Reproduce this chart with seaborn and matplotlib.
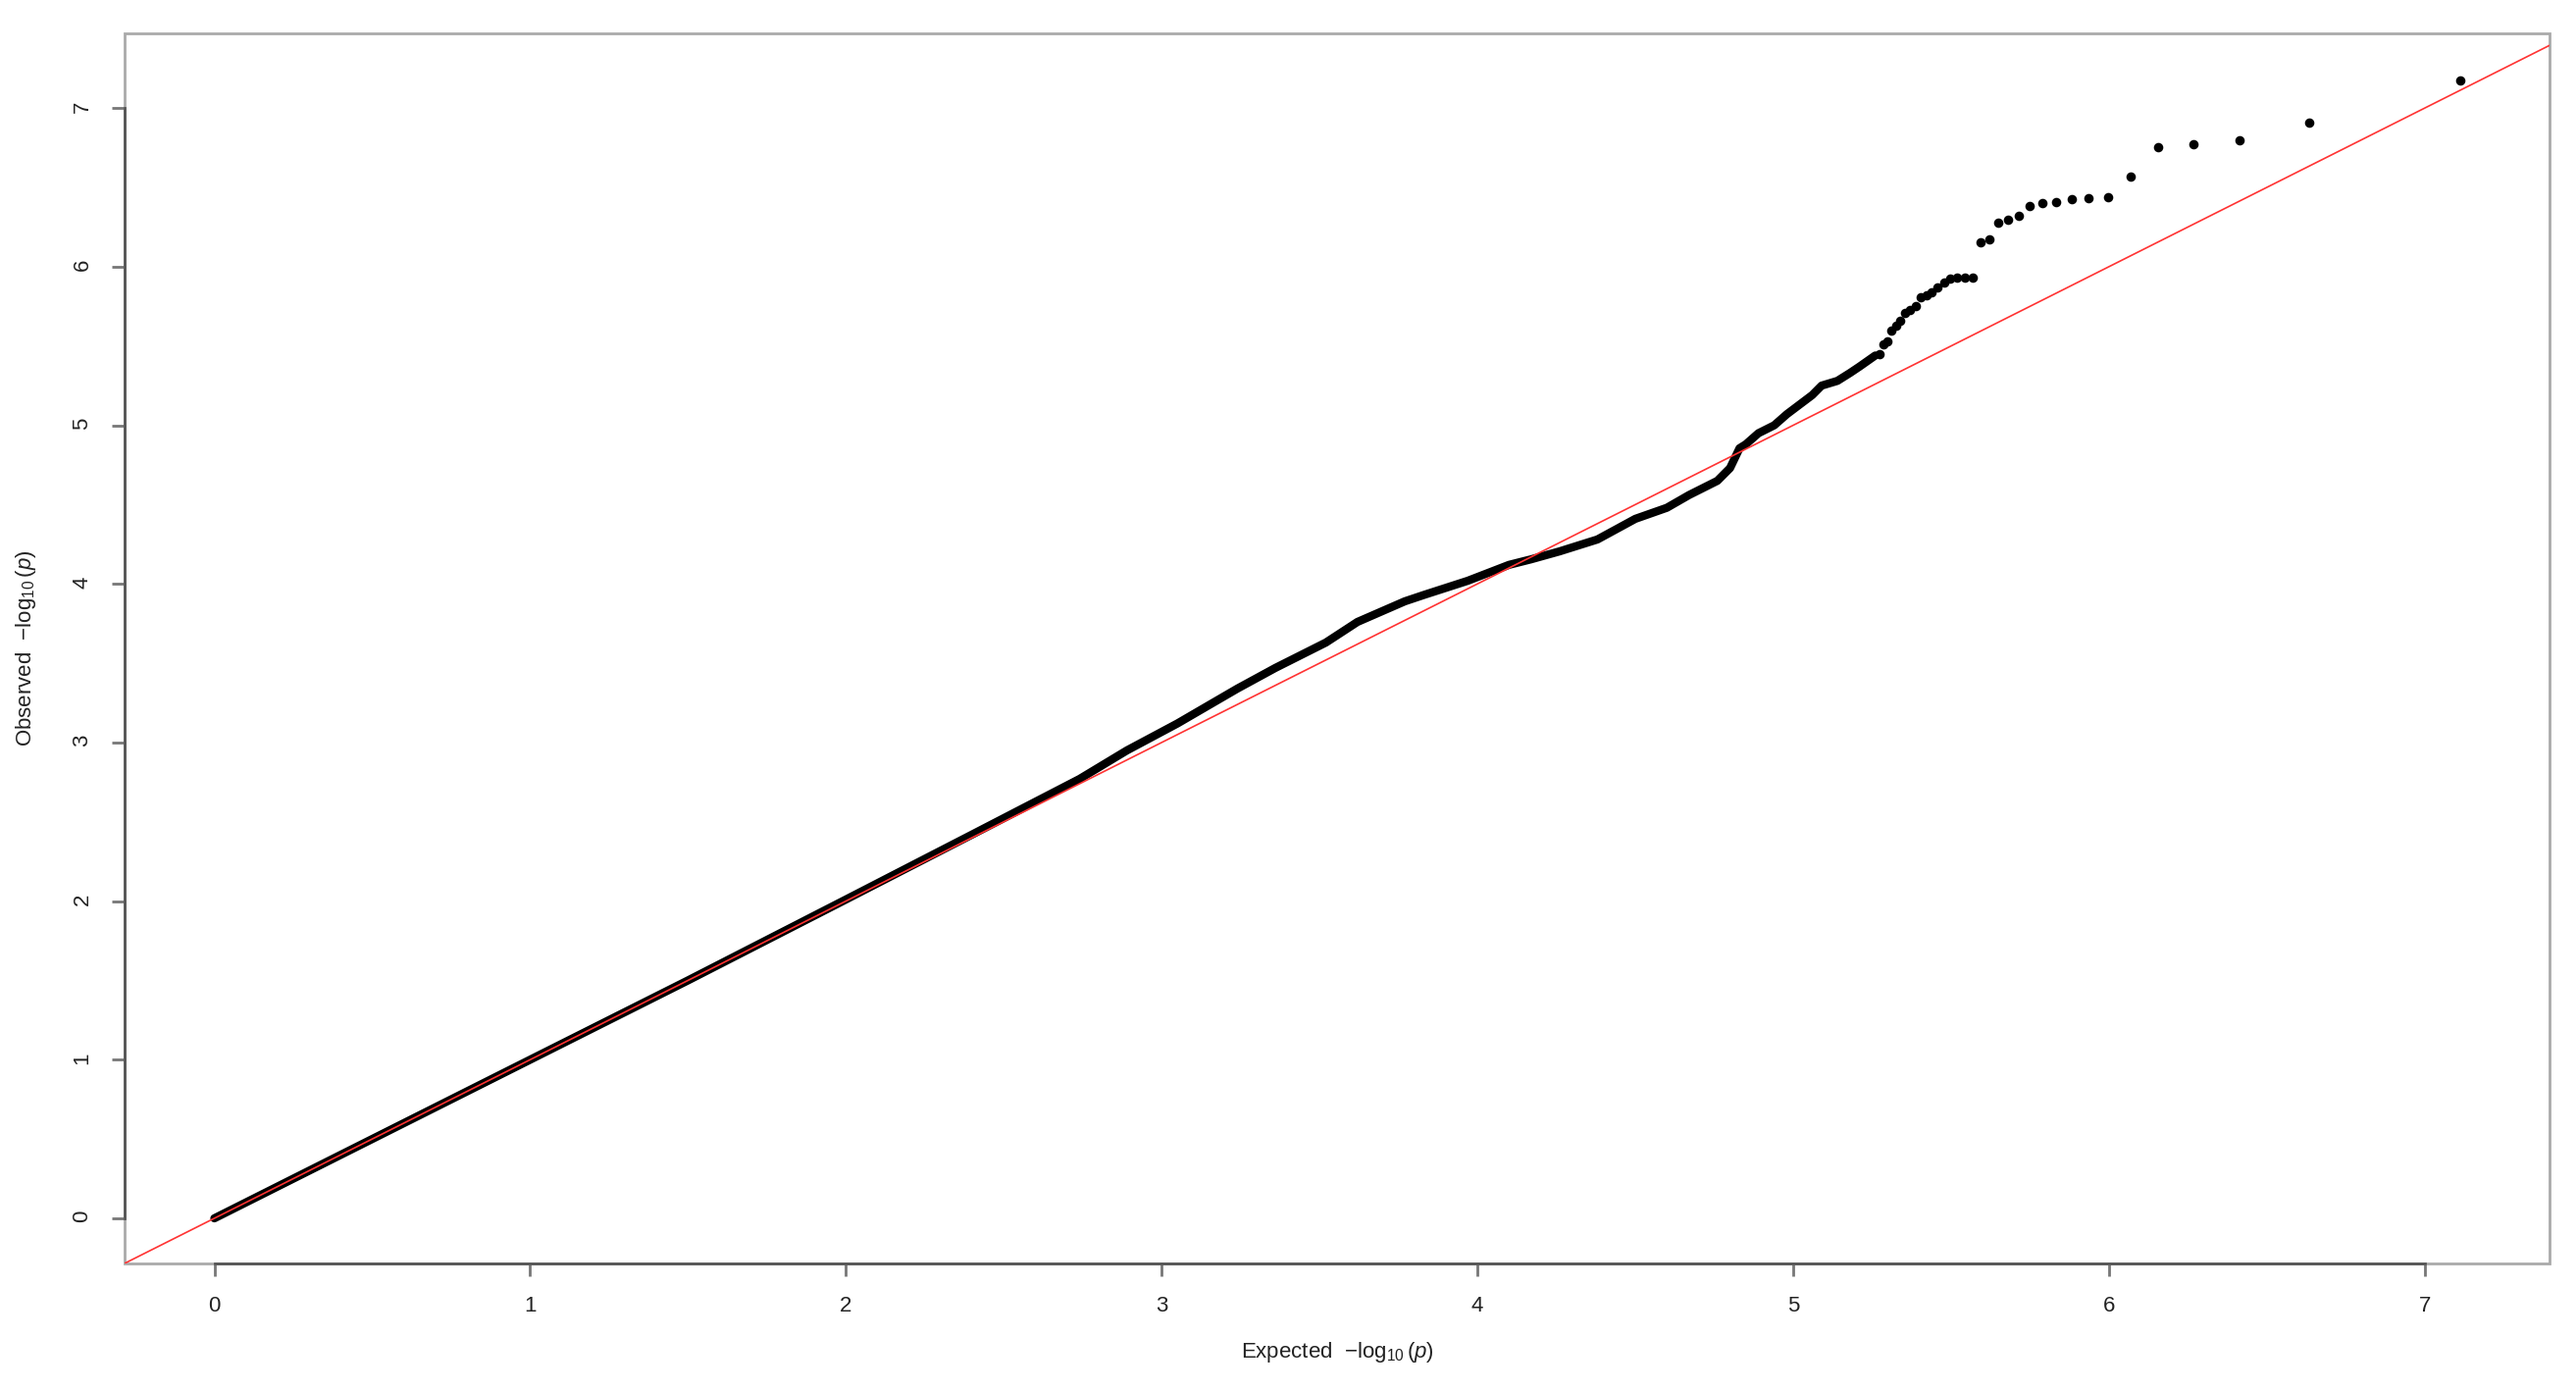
import matplotlib
matplotlib.use("Agg")
import matplotlib.pyplot as plt
from matplotlib.patches import Rectangle
import pandas as pd
import seaborn as sns

# ----------------------------
# QQ data
# ----------------------------
# dense body of the curve (drawn as a thick band)
body_expected = [0.00, 0.50, 1.00, 1.50, 2.00, 2.40, 2.74, 2.89, 3.05, 3.24,
                 3.36, 3.52, 3.62, 3.77, 3.83, 3.97, 4.10, 4.17, 4.26, 4.38,
                 4.50, 4.60, 4.67, 4.76, 4.80, 4.83, 4.85, 4.89, 4.94, 4.98,
                 5.02, 5.06, 5.09, 5.14, 5.18, 5.21, 5.26]
body_observed = [0.00, 0.50, 1.00, 1.50, 2.01, 2.42, 2.77, 2.95, 3.12, 3.34,
                 3.47, 3.63, 3.76, 3.89, 3.93, 4.02, 4.12, 4.155, 4.205, 4.28,
                 4.41, 4.48, 4.56, 4.65, 4.73, 4.855, 4.88, 4.95, 5.00, 5.07,
                 5.13, 5.19, 5.25, 5.28, 5.33, 5.37, 5.44]

# sparse top hits (individual points)
tail_expected = [7.111, 6.634, 6.412, 6.266, 6.157, 6.070, 5.998, 5.935, 5.881,
                 5.832, 5.789, 5.749, 5.713, 5.679, 5.648, 5.620, 5.593, 5.567,
                 5.543, 5.520, 5.498, 5.478, 5.458, 5.439, 5.421, 5.403, 5.387,
                 5.371, 5.355, 5.340, 5.326, 5.312, 5.298, 5.285, 5.272]
tail_observed = [7.176, 6.908, 6.800, 6.770, 6.755, 6.570, 6.438, 6.434, 6.424,
                 6.410, 6.400, 6.380, 6.320, 6.296, 6.275, 6.174, 6.153, 5.930,
                 5.930, 5.928, 5.925, 5.900, 5.870, 5.840, 5.820, 5.810, 5.750,
                 5.730, 5.710, 5.660, 5.630, 5.600, 5.530, 5.510, 5.450]

ticks = list(range(8))

sns.set_theme(style="white")
plt.rcParams['font.family'] = ['Liberation Sans', 'DejaVu Sans']
plt.rcParams['mathtext.fontset'] = 'custom'
plt.rcParams['mathtext.rm'] = 'Liberation Sans'
plt.rcParams['mathtext.it'] = 'Liberation Sans:italic'

fig = plt.figure(figsize=(26.26, 14.17), dpi=100)
ax = fig.add_axes([0.0484, 0.0910, 0.9413, 0.8850])

body = pd.DataFrame({"expected": body_expected, "observed": body_observed})
tail = pd.DataFrame({"expected": tail_expected, "observed": tail_observed})

sns.lineplot(data=body, x="expected", y="observed", color="black", lw=6,
             solid_capstyle="round", sort=False, estimator=None, ax=ax)
sns.scatterplot(data=tail, x="expected", y="observed", color="black", s=48,
                linewidth=0, ax=ax)

# y = x reference line
ax.axline((0, 0), slope=1, color="#ff3333", lw=1.2, zorder=5)

ax.set_xlim(-0.284, 7.395)
ax.set_ylim(-0.285, 7.471)
ax.set_xticks(ticks)
ax.set_yticks(ticks)
ax.tick_params(bottom=True, left=True, direction="out", length=9.5, width=2,
               color="#777777", labelsize=16, labelcolor="#222222", pad=14)
ax.tick_params(axis="y", labelrotation=90)

# R-like frame: light box, darker axis lines between first and last tick
for s in ["top", "right"]:
    ax.spines[s].set_visible(False)
ax.add_patch(Rectangle((0, 0), 1, 1, transform=ax.transAxes, fill=False,
                       ec="#aaaaaa", lw=2, clip_on=False, zorder=2.4))
for s in ["bottom", "left"]:
    ax.spines[s].set_bounds(0, 7)
    ax.spines[s].set_color("#555555")
    ax.spines[s].set_linewidth(2)

ax.set_xlabel(r"Expected  $-\log_{10}(p)$", fontsize=16, color="#222222")
ax.set_ylabel(r"Observed  $-\log_{10}(p)$", fontsize=16, color="#222222")
ax.xaxis.set_label_coords(0.5, -0.0718)
ax.xaxis.label.set_va("center")
ax.yaxis.set_label_coords(-0.0405, 0.5)
ax.yaxis.label.set_va("center")

fig.savefig("out.png", dpi=100)
